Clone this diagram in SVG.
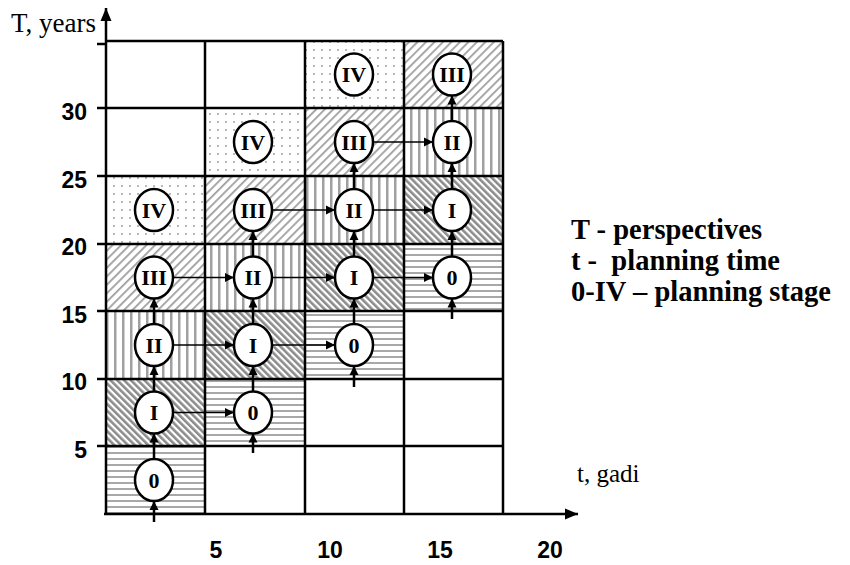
<svg xmlns="http://www.w3.org/2000/svg" width="850" height="565" viewBox="0 0 850 565">
<style>
.grid{stroke:#000;stroke-width:2.5;fill:none}
.node ellipse{fill:#fff;stroke:#000;stroke-width:2.5}
.node text{font-family:"Liberation Serif",serif;font-weight:bold;font-size:22px;text-anchor:middle;fill:#000}
.h{stroke:#000;stroke-width:1.5;fill:none;marker-end:url(#ah)}
.v{stroke:#000;stroke-width:2.5;fill:none;marker-end:url(#ah)}
.ax{font-family:"Liberation Sans",Arial,sans-serif;font-weight:bold;font-size:23px;fill:#000}
.ser{font-family:"Liberation Serif","Times New Roman",serif;fill:#000}
.leg{font-family:"Liberation Serif","Times New Roman",serif;font-weight:bold;font-size:28.5px;fill:#000}
</style>
<defs>
<marker id="ah" markerUnits="userSpaceOnUse" markerWidth="10" markerHeight="10" refX="9" refY="5" orient="auto">
<path d="M0,0.5 L9,5 L0,9.5 Z" fill="#000"/>
</marker>
<marker id="axh" markerUnits="userSpaceOnUse" markerWidth="14" markerHeight="12" refX="13" refY="6" orient="auto">
<path d="M0,0.5 L13,6 L0,11.5 Z" fill="#000"/>
</marker>
<pattern id="pDots" patternUnits="userSpaceOnUse" width="8" height="8">
<rect width="8" height="8" fill="#fff"/>
<circle cx="2" cy="2" r="0.9" fill="#999"/>
</pattern>
<pattern id="pFwd" patternUnits="userSpaceOnUse" width="6" height="6" patternTransform="rotate(45)">
<rect width="6" height="6" fill="#fff"/>
<rect width="1.8" height="6" fill="#a0a0a0"/>
</pattern>
<pattern id="pBack" patternUnits="userSpaceOnUse" width="4.8" height="4.8" patternTransform="rotate(-45)">
<rect width="4.8" height="4.8" fill="#fff"/>
<rect width="2.6" height="4.8" fill="#8c8c8c"/>
</pattern>
<pattern id="pVert" patternUnits="userSpaceOnUse" width="8" height="8">
<rect width="8" height="8" fill="#fff"/>
<rect x="2" width="2.5" height="8" fill="#a0a0a0"/>
</pattern>
<pattern id="pHor" patternUnits="userSpaceOnUse" width="6" height="6">
<rect width="6" height="6" fill="#fff"/>
<rect y="2" width="6" height="2" fill="#a8a8a8"/>
</pattern>
</defs>
<rect width="850" height="565" fill="#fff"/>

<g id="fills">
<rect x="305" y="41" width="99" height="67" fill="url(#pDots)"/>
<rect x="404" y="41" width="99" height="67" fill="url(#pFwd)"/>
<rect x="205" y="108" width="100" height="68" fill="url(#pDots)"/>
<rect x="305" y="108" width="99" height="68" fill="url(#pFwd)"/>
<rect x="404" y="108" width="99" height="68" fill="url(#pVert)"/>
<rect x="106" y="176" width="99" height="68" fill="url(#pDots)"/>
<rect x="205" y="176" width="100" height="68" fill="url(#pFwd)"/>
<rect x="305" y="176" width="99" height="68" fill="url(#pVert)"/>
<rect x="404" y="176" width="99" height="68" fill="url(#pBack)"/>
<rect x="106" y="244" width="99" height="67" fill="url(#pFwd)"/>
<rect x="205" y="244" width="100" height="67" fill="url(#pVert)"/>
<rect x="305" y="244" width="99" height="67" fill="url(#pBack)"/>
<rect x="404" y="244" width="99" height="67" fill="url(#pHor)"/>
<rect x="106" y="311" width="99" height="68" fill="url(#pVert)"/>
<rect x="205" y="311" width="100" height="68" fill="url(#pBack)"/>
<rect x="305" y="311" width="99" height="68" fill="url(#pHor)"/>
<rect x="106" y="379" width="99" height="67" fill="url(#pBack)"/>
<rect x="205" y="379" width="100" height="67" fill="url(#pHor)"/>
<rect x="106" y="446" width="99" height="68" fill="url(#pHor)"/>
</g>

<g id="grid" class="grid">
<path d="M106,41 H503 M97,108 H503 M97,176 H503 M97,244 H503 M97,311 H503 M97,379 H503 M97,446 H503 M97,44 H106"/>
<path d="M205,41 V514 M305,41 V514 M404,41 V514 M503,41 V514"/>
</g>

<g id="axes">
<line x1="106" y1="514" x2="106" y2="8" stroke="#000" stroke-width="2.5" marker-end="url(#axh)"/>
<line x1="104" y1="514" x2="578" y2="514" stroke="#000" stroke-width="2.5" marker-end="url(#axh)"/>
<text class="ax" x="87" y="120" text-anchor="end">30</text>
<text class="ax" x="87" y="188" text-anchor="end">25</text>
<text class="ax" x="87" y="255" text-anchor="end">20</text>
<text class="ax" x="87" y="323" text-anchor="end">15</text>
<text class="ax" x="87" y="390" text-anchor="end">10</text>
<text class="ax" x="87" y="458" text-anchor="end">5</text>
<text class="ax" x="216" y="558" text-anchor="middle">5</text>
<text class="ax" x="330" y="558" text-anchor="middle">10</text>
<text class="ax" x="440" y="558" text-anchor="middle">15</text>
<text class="ax" x="550" y="558" text-anchor="middle">20</text>
<text class="ser" x="11" y="32" font-size="27">T, years</text>
<text class="ser" x="577" y="482" font-size="25">t, gadi</text>
</g>

<g id="connectors">
<line class="h" x1="373" y1="142" x2="433" y2="142"/>
<line class="h" x1="272" y1="210" x2="335" y2="210"/>
<line class="h" x1="373" y1="210" x2="433" y2="210"/>
<line class="h" x1="173" y1="277.5" x2="234" y2="277.5"/>
<line class="h" x1="272" y1="277.5" x2="335" y2="277.5"/>
<line class="h" x1="373" y1="277.5" x2="433" y2="277.5"/>
<line class="h" x1="173" y1="345" x2="234" y2="345"/>
<line class="h" x1="272" y1="345" x2="335" y2="345"/>
<line class="h" x1="173" y1="412.5" x2="234" y2="412.5"/>
<line class="v" x1="154" y1="522" x2="154" y2="501"/>
<line class="v" x1="154" y1="459" x2="154" y2="433.5"/>
<line class="v" x1="154" y1="391.5" x2="154" y2="366"/>
<line class="v" x1="154" y1="324" x2="154" y2="298.5"/>
<line class="v" x1="253" y1="453" x2="253" y2="433.5"/>
<line class="v" x1="253" y1="391.5" x2="253" y2="366"/>
<line class="v" x1="253" y1="324" x2="253" y2="298.5"/>
<line class="v" x1="253" y1="256.5" x2="253" y2="231"/>
<line class="v" x1="354" y1="387" x2="354" y2="366"/>
<line class="v" x1="354" y1="324" x2="354" y2="298.5"/>
<line class="v" x1="354" y1="256.5" x2="354" y2="231"/>
<line class="v" x1="354" y1="189" x2="354" y2="163"/>
<line class="v" x1="452" y1="319" x2="452" y2="298.5"/>
<line class="v" x1="452" y1="256.5" x2="452" y2="231"/>
<line class="v" x1="452" y1="189" x2="452" y2="163"/>
<line class="v" x1="452" y1="121" x2="452" y2="95.5"/>
</g>

<g id="n-r0c2" class="node"><ellipse cx="354" cy="74.5" rx="19" ry="21"/><text x="354" y="82">IV</text></g>
<g id="n-r0c3" class="node"><ellipse cx="452" cy="74.5" rx="19" ry="21"/><text x="452" y="82">III</text></g>
<g id="n-r1c1" class="node"><ellipse cx="253" cy="142" rx="19" ry="21"/><text x="253" y="149.5">IV</text></g>
<g id="n-r1c2" class="node"><ellipse cx="354" cy="142" rx="19" ry="21"/><text x="354" y="149.5">III</text></g>
<g id="n-r1c3" class="node"><ellipse cx="452" cy="142" rx="19" ry="21"/><text x="452" y="149.5">II</text></g>
<g id="n-r2c0" class="node"><ellipse cx="154" cy="210" rx="19" ry="21"/><text x="154" y="217.5">IV</text></g>
<g id="n-r2c1" class="node"><ellipse cx="253" cy="210" rx="19" ry="21"/><text x="253" y="217.5">III</text></g>
<g id="n-r2c2" class="node"><ellipse cx="354" cy="210" rx="19" ry="21"/><text x="354" y="217.5">II</text></g>
<g id="n-r2c3" class="node"><ellipse cx="452" cy="210" rx="19" ry="21"/><text x="452" y="217.5">I</text></g>
<g id="n-r3c0" class="node"><ellipse cx="154" cy="277.5" rx="19" ry="21"/><text x="154" y="285">III</text></g>
<g id="n-r3c1" class="node"><ellipse cx="253" cy="277.5" rx="19" ry="21"/><text x="253" y="285">II</text></g>
<g id="n-r3c2" class="node"><ellipse cx="354" cy="277.5" rx="19" ry="21"/><text x="354" y="285">I</text></g>
<g id="n-r3c3" class="node"><ellipse cx="452" cy="277.5" rx="19" ry="21"/><text x="452" y="285">0</text></g>
<g id="n-r4c0" class="node"><ellipse cx="154" cy="345" rx="19" ry="21"/><text x="154" y="352.5">II</text></g>
<g id="n-r4c1" class="node"><ellipse cx="253" cy="345" rx="19" ry="21"/><text x="253" y="352.5">I</text></g>
<g id="n-r4c2" class="node"><ellipse cx="354" cy="345" rx="19" ry="21"/><text x="354" y="352.5">0</text></g>
<g id="n-r5c0" class="node"><ellipse cx="154" cy="412.5" rx="19" ry="21"/><text x="154" y="420">I</text></g>
<g id="n-r5c1" class="node"><ellipse cx="253" cy="412.5" rx="19" ry="21"/><text x="253" y="420">0</text></g>
<g id="n-r6c0" class="node"><ellipse cx="154" cy="480" rx="19" ry="21"/><text x="154" y="487.5">0</text></g>

<g id="legend">
<text class="leg" x="571" y="239">T - perspectives</text>
<text class="leg" x="571" y="270" xml:space="preserve">t -  planning time</text>
<text class="leg" x="571" y="301">0-IV – planning stage</text>
</g>
</svg>
